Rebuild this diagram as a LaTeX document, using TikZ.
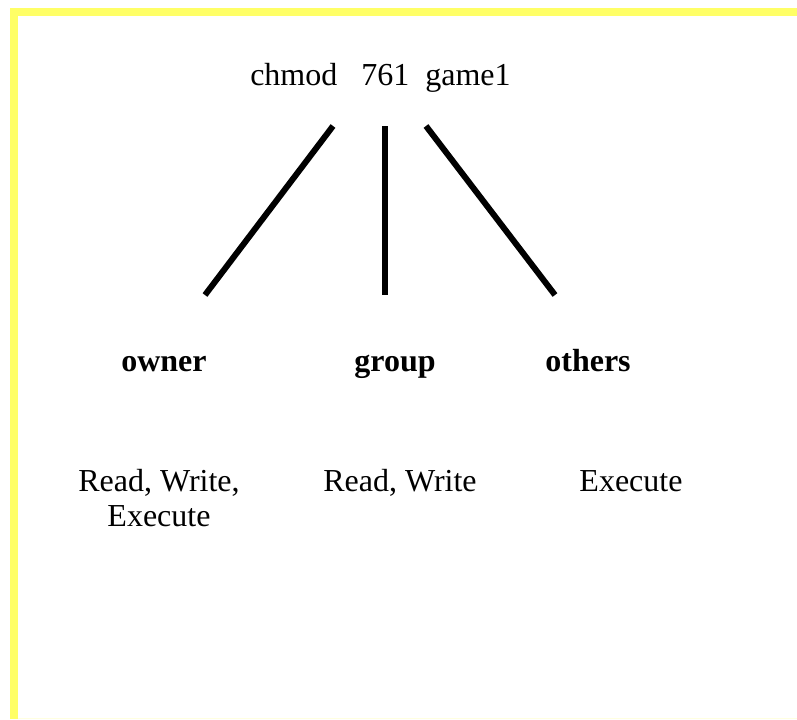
\documentclass[tikz,border=0pt]{standalone}
\usepackage{fontspec}
\setmainfont{Liberation Serif}
\definecolor{frameyellow}{HTML}{FFFF66}

\begin{document}
\begin{tikzpicture}[
    x=0.75pt, y=-0.75pt,
    cmdtext/.style={font=\fontsize{24}{28}\selectfont, inner sep=0pt, anchor=base west},
    who/.style={font=\fontsize{24}{28}\selectfont\bfseries, inner sep=0pt, anchor=base},
    perm/.style={font=\fontsize{24}{26.25}\selectfont, inner sep=0pt, anchor=base, align=center},
    link/.style={line width=4.5pt, black},
    rim/.style={line width=6pt, frameyellow}
  ]
  \useasboundingbox (0,0) rectangle (797,719);

  % yellow frame, only the left and top edges show
  \draw[rim] (14,719) -- (14,12) -- (797,12);
  \draw[frameyellow!20, line width=0.75pt] (18,718.5) -- (797,718.5);

  % command
  \node[cmdtext] (cmd) at (250,85) {chmod\hspace{18pt}761\hspace{12pt}game1};

  % who row
  \node[who] (owner) at (164,371) {owner};
  \node[who] (group) at (395,371) {group};
  \node[who] (others) at (588,371) {others};

  % permissions row (base of a two-line node is its last line)
  \node[perm] (ownerperm) at (159,526) {Read, Write,\\Execute};
  \node[perm] (groupperm) at (400,491) {Read, Write};
  \node[perm] (othersperm) at (631,491) {Execute};

  % lines from the digits down to the classes
  \coordinate (ownertop) at (333,126);
  \coordinate (ownerend) at (205,295);
  \coordinate (grouptop) at (385,126);
  \coordinate (groupend) at (385,295);
  \coordinate (otherstop) at (426,126);
  \coordinate (othersend) at (555,295);
  \draw[link] (ownertop) -- (ownerend);
  \draw[link] (grouptop) -- (groupend);
  \draw[link] (otherstop) -- (othersend);
\end{tikzpicture}
\end{document}
